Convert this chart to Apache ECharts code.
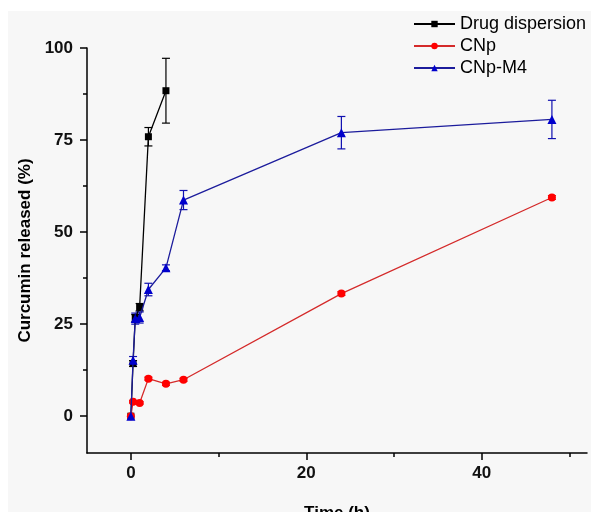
<!DOCTYPE html>
<html><head><meta charset="utf-8">
<script src="https://cdn.jsdelivr.net/npm/echarts@6/dist/echarts.min.js"></script>
<style>html,body{margin:0;padding:0;background:#fff}#c{width:591px;height:512px}</style>
</head><body><div id="c"></div>
<script>
// ---- data ----
const timeDrug = [0, 0.25, 0.5, 1, 2, 4];
const drugValues = [0, 14.3, 26.6, 29.6, 75.9, 88.4];
const drugErrors = [0, 0.8, 1.0, 1.0, 2.5, 8.8];

const timeCNp = [0, 0.25, 1, 2, 4, 6, 24, 48];
const cnpValues = [0, 3.9, 3.6, 10.2, 8.8, 9.9, 33.3, 59.4];
const cnpErrors = [0, 0.3, 0.3, 0.4, 0.4, 0.4, 0.5, 0.5];

const timeM4 = [0, 0.25, 0.5, 1, 2, 4, 6, 24, 48];
const m4Values = [0, 15.2, 26.5, 26.8, 34.4, 40.3, 58.7, 77.0, 80.6];
const m4Errors = [0, 1.0, 1.5, 1.5, 1.7, 0.8, 2.6, 4.4, 5.2];

const xMajorTicks = [0, 20, 40];
const xMinorTicks = [10, 30, 50];
const yMajorTicks = [0, 25, 50, 75, 100];
const yMinorTicks = [12.5, 37.5, 62.5, 87.5];

const seriesNames = ['Drug dispersion', 'CNp', 'CNp-M4'];

// ---- chart ----
const FONT = '"Liberation Sans", Arial, sans-serif';
const zip = (t, v) => t.map((x, i) => [x, v[i]]);
const zip3 = (t, v, e) => t.map((x, i) => [x, v[i], e[i]]);

function errRender(color) {
  return function (params, api) {
    const x = api.value(0), y = api.value(1), e = api.value(2);
    if (!e) return null;
    const hi = api.coord([x, y + e]);
    const lo = api.coord([x, y - e]);
    const w = 4;
    const st = { stroke: color, lineWidth: 1.2 };
    return {
      type: 'group',
      children: [
        { type: 'line', shape: { x1: hi[0], y1: hi[1], x2: lo[0], y2: lo[1] }, style: st },
        { type: 'line', shape: { x1: hi[0] - w, y1: hi[1], x2: hi[0] + w, y2: hi[1] }, style: st },
        { type: 'line', shape: { x1: lo[0] - w, y1: lo[1], x2: lo[0] + w, y2: lo[1] }, style: st }
      ]
    };
  };
}

const axisCommonX = { type: 'value', min: -5, max: 52, splitLine: { show: false } };
const axisCommonY = { type: 'value', min: -10, max: 100, splitLine: { show: false } };

const chart = echarts.init(document.getElementById('c'));
chart.setOption({
  animation: false,
  backgroundColor: '#ffffff',
  graphic: [{
    type: 'rect', left: 8, top: 11, z: -10,
    shape: { width: 583, height: 501 },
    style: { fill: '#f7f7f7' }
  }],
  grid: { left: 87, right: 4, top: 48, bottom: 59, containLabel: false, outerBoundsMode: 'none' },
  legend: {
    data: seriesNames,
    orient: 'vertical',
    left: 408, top: 10,
    itemWidth: 41, itemHeight: 8, itemGap: 4,
    textStyle: { fontFamily: FONT, fontSize: 18, color: '#000', lineHeight: 18 }
  },
  xAxis: [
    Object.assign({}, axisCommonX, {
      name: 'Time (h)', nameLocation: 'middle', nameGap: 52,
      nameTextStyle: { fontFamily: FONT, fontSize: 17, fontWeight: 'bold', color: '#000' },
      axisLine: { onZero: false, lineStyle: { color: '#000', width: 1.5 } },
      axisTick: { length: 7, lineStyle: { color: '#000', width: 1.5 }, customValues: xMajorTicks },
      axisLabel: { margin: 12, fontFamily: FONT, fontSize: 17, fontWeight: 'bold', color: '#111', customValues: xMajorTicks }
    }),
    Object.assign({}, axisCommonX, {
      position: 'bottom', offset: 0,
      axisLine: { show: false, onZero: false },
      axisTick: { length: 4, lineStyle: { color: '#000', width: 1.5 }, customValues: xMinorTicks },
      axisLabel: { show: false }
    })
  ],
  yAxis: [
    Object.assign({}, axisCommonY, {
      name: 'Curcumin released (%)', nameLocation: 'middle', nameGap: 53,
      nameTextStyle: { fontFamily: FONT, fontSize: 17, fontWeight: 'bold', color: '#000' },
      axisLine: { show: true, onZero: false, lineStyle: { color: '#000', width: 1.5 } },
      axisTick: { show: true, length: 7, lineStyle: { color: '#000', width: 1.5 }, customValues: yMajorTicks },
      axisLabel: { margin: 14, fontFamily: FONT, fontSize: 17, fontWeight: 'bold', color: '#111', customValues: yMajorTicks }
    }),
    Object.assign({}, axisCommonY, {
      position: 'left', offset: 0,
      axisLine: { show: false, onZero: false },
      axisTick: { show: true, length: 4, lineStyle: { color: '#000', width: 1.5 }, customValues: yMinorTicks },
      axisLabel: { show: false }
    })
  ],
  series: [
    { type: 'custom', xAxisIndex: 0, yAxisIndex: 0, renderItem: errRender('#000'),
      data: zip3(timeDrug, drugValues, drugErrors), encode: { x: 0, y: 1 }, z: 1, silent: true },
    { type: 'custom', xAxisIndex: 0, yAxisIndex: 0, renderItem: errRender('#e00000'),
      data: zip3(timeCNp, cnpValues, cnpErrors), encode: { x: 0, y: 1 }, z: 1, silent: true },
    { type: 'custom', xAxisIndex: 0, yAxisIndex: 0, renderItem: errRender('#1010b0'),
      data: zip3(timeM4, m4Values, m4Errors), encode: { x: 0, y: 1 }, z: 1, silent: true },
    { name: 'Drug dispersion', type: 'line', xAxisIndex: 0, yAxisIndex: 0,
      data: zip(timeDrug, drugValues), symbol: 'rect', symbolSize: 7,
      itemStyle: { color: '#000' }, lineStyle: { color: '#000', width: 1.3 }, z: 3 },
    { name: 'CNp', type: 'line', xAxisIndex: 0, yAxisIndex: 0,
      data: zip(timeCNp, cnpValues), symbol: 'circle', symbolSize: 8,
      itemStyle: { color: '#ff0000' }, lineStyle: { color: '#d42a2a', width: 1.3 }, z: 3 },
    { name: 'CNp-M4', type: 'line', xAxisIndex: 0, yAxisIndex: 0,
      data: zip(timeM4, m4Values), symbol: 'triangle', symbolSize: 9,
      itemStyle: { color: '#0000cc' }, lineStyle: { color: '#1c1c9c', width: 1.3 }, z: 4 }
  ]
});
</script>
</body></html>
